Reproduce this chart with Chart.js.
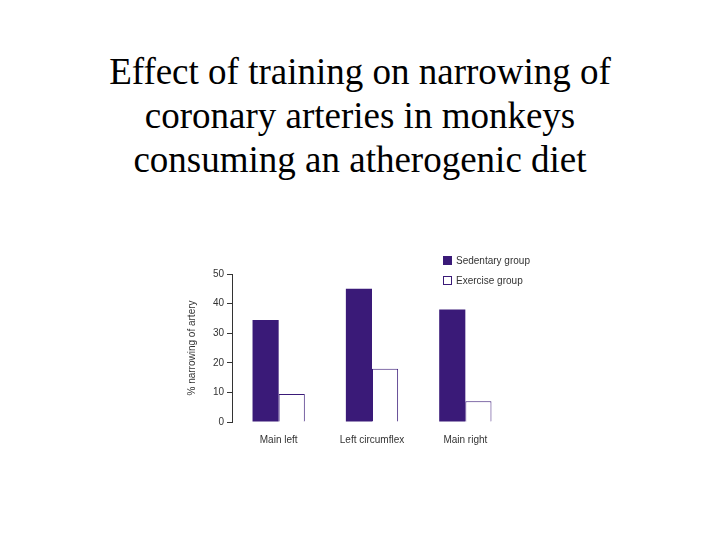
<!DOCTYPE html>
<html><head><meta charset="utf-8">
<script src="https://cdn.jsdelivr.net/npm/chart.js@4"></script>
<style>
body{margin:0;width:720px;height:540px;background:#fff;position:relative;overflow:hidden}
#title{position:absolute;left:0;top:50px;width:720px;text-align:center;font-family:"Liberation Serif",serif;font-size:37px;line-height:44px;color:#000}
#chartBox{position:absolute;left:180px;top:262px;width:340px;height:190px}
.lg{position:absolute;font-family:"Liberation Sans",Arial,sans-serif;font-size:10px;color:#333}
.sw{display:inline-block;width:9px;height:9px;vertical-align:-1px;margin-right:4px;box-sizing:border-box;border:1px solid #3a1a78}
</style></head><body>
<div id="title">Effect of training on narrowing of<br>coronary arteries in monkeys<br>consuming an atherogenic diet</div>
<div id="chartBox"><canvas id="myChart" width="340" height="190"></canvas></div>
<div class="lg" style="left:443px;top:255px"><span class="sw" style="background:#3a1a78"></span>Sedentary group</div>
<div class="lg" style="left:443px;top:275px"><span class="sw" style="background:#fff"></span>Exercise group</div>
<script>
const categories = ["Main left", "Left circumflex", "Main right"];
const sedentary = [34.5, 45, 38];
const exercise = [9.5, 18, 7];
const yTicks = [0, 10, 20, 30, 40, 50];

const purple = '#3a1a78';
const ctx = document.getElementById('myChart');
new Chart(ctx, {
	type: 'bar',
	data: {
		labels: categories,
		datasets: [{
			label: 'Sedentary group',
			data: sedentary,
			backgroundColor: purple,
			borderWidth: 0
		}, {
			label: 'Exercise group',
			data: exercise,
			backgroundColor: '#fff',
			borderColor: purple,
			borderWidth: 1
		}]
	},
	options: {
		responsive: false,
		animation: false,
		layout: {padding: {top: 12, right: 8, bottom: 0, left: 6}},
		plugins: {legend: {display: false}, tooltip: {enabled: false}},
		datasets: {bar: {categoryPercentage: 0.56, barPercentage: 1}},
		scales: {
			x: {
				grid: {display: false},
				border: {display: false},
				ticks: {color: '#333', font: {family: 'Liberation Sans', size: 10}, padding: 4},
				afterFit: s => { s.height = 30; }
			},
			y: {
				min: 0, max: 50,
				afterBuildTicks: s => { s.ticks = yTicks.map(v => ({value: v})); },
				grid: {drawOnChartArea: false, tickLength: 5, color: '#333'},
				border: {display: true, color: '#333'},
				ticks: {color: '#333', font: {family: 'Liberation Sans', size: 10}, padding: 3},
				title: {display: true, text: '% narrowing of artery', color: '#333', font: {family: 'Liberation Sans', size: 10}, padding: 0},
				afterFit: s => { s.width = 46; }
			}
		}
	}
});
</script>
</body></html>
